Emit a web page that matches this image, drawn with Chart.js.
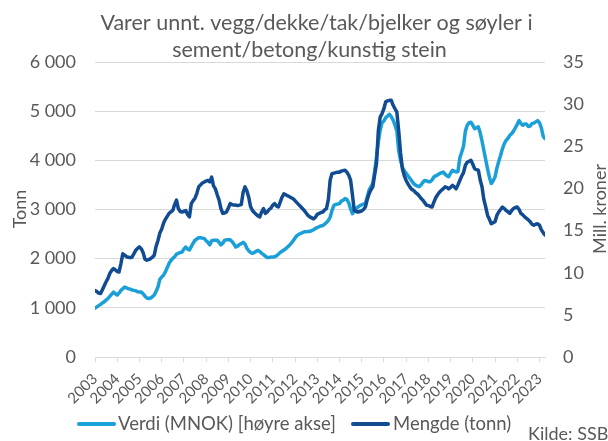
<!DOCTYPE html>
<html><head><meta charset="utf-8">
<script src="https://cdn.jsdelivr.net/npm/chart.js@4"></script>
<style>html,body{margin:0;padding:0;background:#fff;overflow:hidden}</style>
</head><body>
<canvas id="c" width="608" height="441"></canvas>
<script>
const titleLines = ["Varer unnt. vegg/dekke/tak/bjelker og søyler i", "sement/betong/kunstig stein"];
const leftAxisTitle = "Tonn";
const rightAxisTitle = "Mill. kroner";
const seriesNames = ["Verdi (MNOK) [høyre akse]", "Mengde (tonn)"];
const sourceText = "Kilde: SSB";
const startYear = 2003;
const yearTicks = [2003,2004,2005,2006,2007,2008,2009,2010,2011,2012,2013,2014,2015,2016,2017,2018,2019,2020,2021,2022,2023];
const leftTicks = [0,1000,2000,3000,4000,5000,6000];
const rightTicks = [0,5,10,15,20,25,30,35];

// Mengde (tonn), monthly, Jan 2003 - Apr 2023 (left axis)
const mengde = [
1350,1330,1300,1290,1370,1450,1530,1600,1700,1760,1800,1770,
1740,1730,1900,2100,2070,2040,2030,2020,2030,2100,2170,2210,
2240,2200,2120,1990,1970,1980,2000,2030,2070,2250,2370,2520,
2600,2720,2800,2860,2920,2950,2980,3100,3190,3020,2960,2950,
2960,2980,2900,2850,3120,3180,3230,3330,3460,3500,3540,3560,
3580,3590,3560,3660,3480,3420,3300,3190,3020,2920,2930,2950,
3030,3120,3100,3090,3090,3080,3090,3100,3350,3460,3380,3250,
3060,2980,2940,2900,2870,2850,2950,3020,2920,2950,3000,3030,
3090,3120,3070,3050,3150,3250,3320,3300,3280,3260,3240,3220,
3180,3140,3100,3060,3020,2980,2930,2880,2850,2830,2810,2840,
2900,2920,2940,2950,2990,3020,3200,3600,3730,3740,3750,3760,
3760,3780,3790,3800,3760,3700,3600,3300,2980,2960,2950,2960,
2970,3000,3050,3200,3320,3400,3460,3700,3930,4600,4880,4950,
5050,5190,5210,5220,5220,5120,5050,4980,4600,4150,3830,3690,
3590,3520,3460,3410,3390,3350,3320,3280,3230,3190,3140,3090,
3080,3060,3050,3150,3240,3300,3350,3390,3420,3460,3450,3420,
3450,3490,3460,3420,3500,3590,3680,3750,3900,3960,3980,4000,
3920,3830,3810,3800,3600,3460,3200,3050,2880,2800,2710,2730,
2750,2880,2950,3000,3050,3020,2980,2950,2920,2980,3020,3040,
3050,3000,2920,2890,2850,2820,2790,2750,2700,2680,2700,2710,
2680,2590,2530,2480
];

// Verdi (MNOK), monthly, Jan 2003 - Apr 2023 (right axis)
const verdi = [
5.8,5.95,6.1,6.25,6.4,6.55,6.75,6.95,7.2,7.45,7.7,7.5,
7.35,7.6,7.9,8.1,8.3,8.2,8.1,8.05,7.95,7.9,7.85,7.75,
7.7,7.7,7.5,7.2,7.0,6.95,7.0,7.15,7.35,7.8,8.3,9.2,
9.5,9.7,10.1,10.6,11.1,11.45,11.7,11.9,12.2,12.3,12.4,12.45,
12.8,13.05,12.8,12.7,13.1,13.5,13.85,14.0,14.15,14.15,14.1,14.05,
13.8,13.6,13.3,13.8,13.85,13.85,13.85,13.6,13.3,13.5,13.85,13.9,
13.9,13.9,13.7,13.4,13.05,13.15,13.35,13.45,13.6,13.4,12.9,12.6,
12.4,12.3,12.4,12.55,12.65,12.5,12.3,12.15,11.95,11.8,11.8,11.85,
11.85,11.9,12.0,12.2,12.4,12.55,12.7,12.85,13.05,13.25,13.5,13.8,
14.1,14.4,14.55,14.65,14.75,14.85,14.85,14.9,14.9,15.0,15.1,15.25,
15.35,15.45,15.55,15.6,15.75,15.95,16.2,16.6,17.4,18.0,18.1,18.15,
18.2,18.5,18.6,18.8,18.7,18.3,17.6,17.0,17.3,17.6,17.8,17.95,
18.05,18.15,18.2,19.0,19.8,20.2,20.6,22.0,23.7,25.5,26.9,27.8,
28.0,28.4,28.6,28.8,28.5,28.1,27.5,26.8,24.5,23.3,22.5,22.1,
21.8,21.5,21.2,20.9,20.6,20.4,20.3,20.2,20.4,20.7,20.95,20.9,
20.8,20.8,21.0,21.35,21.5,21.6,21.75,21.85,21.95,21.7,21.5,21.4,
21.8,22.15,22.05,21.95,22.0,23.6,24.3,25.0,26.8,27.5,27.8,27.85,
27.5,27.1,27.2,27.3,26.6,25.6,24.5,23.4,22.3,21.3,20.6,20.9,
21.35,22.4,23.2,23.9,24.7,25.3,25.7,25.95,26.3,26.5,26.8,27.2,
27.6,28.05,27.7,27.5,27.65,27.65,27.35,27.4,27.7,27.75,27.9,28.05,
27.8,27.2,26.2,25.9
];

const monthPositions = mengde.map((_, i) => startYear + i / 12);

const LIGHT = '#1a9fd9';
const DARK = '#114b91';
const TXT = '#595959';
const GRID = '#d9d9d9';
const FONT = 'Lato';

function fmtThousands(v) {
  if (v < 1000) return String(v);
  return Math.floor(v / 1000) + ' ' + String(v % 1000).padStart(3, '0');
}

const textPlugin = {
  id: 'texts',
  afterDraw(chart) {
    const ctx = chart.ctx;
    ctx.save();
    ctx.fillStyle = TXT;
    ctx.font = '21.5px ' + FONT;
    ctx.textAlign = 'center';
    ctx.textBaseline = 'alphabetic';
    ctx.fillText(titleLines[0], 316.5, 30);
    ctx.fillText(titleLines[1], 309.5, 57);

    ctx.font = '18px ' + FONT;
    ctx.textBaseline = 'middle';
    ctx.save(); ctx.translate(20, 209); ctx.rotate(-Math.PI / 2); ctx.fillText(leftAxisTitle, 0, 0); ctx.restore();
    ctx.save(); ctx.translate(600, 209); ctx.rotate(-Math.PI / 2); ctx.fillText(rightAxisTitle, 0, 0); ctx.restore();

    // legend
    ctx.font = '18.5px ' + FONT;
    ctx.lineWidth = 4;
    ctx.lineCap = 'round';
    ctx.textAlign = 'left';
    ctx.textBaseline = 'alphabetic';
    ctx.strokeStyle = LIGHT;
    ctx.beginPath(); ctx.moveTo(79, 424); ctx.lineTo(114, 424); ctx.stroke();
    ctx.fillText(seriesNames[0], 118, 430);
    ctx.strokeStyle = DARK;
    ctx.beginPath(); ctx.moveTo(353, 424); ctx.lineTo(388, 424); ctx.stroke();
    ctx.fillText(seriesNames[1], 393, 430);
    ctx.font = '18px ' + FONT;
    ctx.fillText(sourceText, 528, 440);
    ctx.restore();
  }
};

new Chart(document.getElementById('c'), {
  type: 'line',
  data: {
    labels: monthPositions,
    datasets: [
      { label: seriesNames[1], data: mengde, yAxisID: 'y', borderColor: DARK, borderWidth: 3.5, pointRadius: 0, tension: 0, borderJoinStyle: 'round', borderCapStyle: 'round' },
      { label: seriesNames[0], data: verdi, yAxisID: 'y1', borderColor: LIGHT, borderWidth: 3.5, pointRadius: 0, tension: 0, borderJoinStyle: 'round', borderCapStyle: 'round' }
    ]
  },
  options: {
    responsive: false,
    animation: false,
    devicePixelRatio: 1,
    layout: { padding: { top: 62, left: 0, right: 0, bottom: 0 } },
    plugins: { legend: { display: false }, tooltip: { enabled: false }, title: { display: false } },
    scales: {
      x: {
        type: 'linear',
        min: startYear,
        max: monthPositions[monthPositions.length - 1],
        afterBuildTicks: (s) => { s.ticks = yearTicks.map(v => ({ value: v })); },
        afterFit: (s) => { s.height = 84; },
        ticks: { autoSkip: false, maxRotation: 45, minRotation: 45, padding: 8, color: TXT, font: { family: FONT, size: 15 }, callback: (v) => String(v) },
        grid: { display: true, drawOnChartArea: false, drawTicks: true, tickLength: 5, color: GRID, lineWidth: 1 },
        border: { display: true, color: GRID, width: 1 }
      },
      y: {
        position: 'left',
        min: 0, max: 6000,
        afterBuildTicks: (s) => { s.ticks = leftTicks.map(v => ({ value: v })); },
        afterFit: (s) => { s.width = 95; },
        ticks: { padding: 19, color: TXT, font: { family: FONT, size: 18 }, callback: (v) => fmtThousands(v) },
        grid: { color: GRID, lineWidth: 1, drawTicks: false },
        border: { display: false }
      },
      y1: {
        position: 'right',
        min: 0, max: 35,
        afterBuildTicks: (s) => { s.ticks = rightTicks.map(v => ({ value: v })); },
        afterFit: (s) => { s.width = 63; },
        ticks: { padding: 18, color: TXT, font: { family: FONT, size: 18 } },
        grid: { display: false, drawTicks: false },
        border: { display: false }
      }
    }
  },
  plugins: [textPlugin]
});
</script>
</body></html>
